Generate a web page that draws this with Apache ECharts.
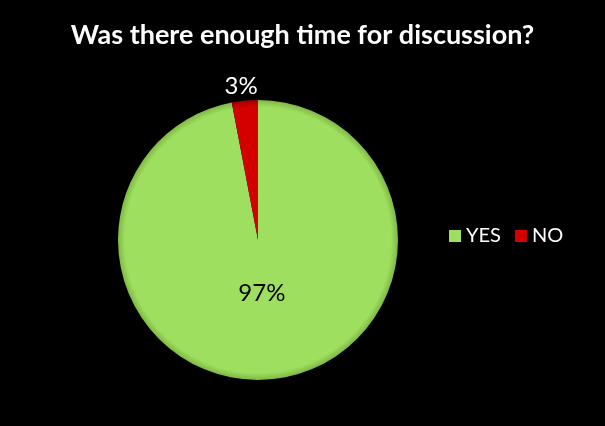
<!DOCTYPE html>
<html><head><meta charset="utf-8">
<script src="https://cdn.jsdelivr.net/npm/echarts@6/dist/echarts.min.js"></script>
<style>html,body{margin:0;padding:0;background:#000;}#c{width:605px;height:426px;}</style>
</head><body><div id="c"></div>
<script>
const titleText = 'Was there enough time for discussion?';
const categories = ['YES', 'NO'];
const values = [97, 3];
const colors = ['#9fdf5f', '#d40000'];
const edgeColors = ['#7fb845', '#a00000'];

const CX = 258, CY = 240, R = 140;
const chart = echarts.init(document.getElementById('c'), null, {renderer: 'canvas'});
const data = categories.map((c, i) => ({
  name: c,
  value: values[i],
  itemStyle: {
    color: new echarts.graphic.RadialGradient(CX, CY, R, [
      {offset: 0, color: colors[i]},
      {offset: 0.95, color: colors[i]},
      {offset: 1, color: edgeColors[i]}
    ], true)
  },
  label: i === 0 ? {
    position: 'inside', color: '#000', offset: [-3, -19]
  } : {
    position: 'outside', color: '#fff', offset: [18, -12]
  },
  labelLine: {show: false}
}));

chart.setOption({
  backgroundColor: '#000',
  animation: false,
  title: {
    text: titleText, left: 'center', top: 17,
    textStyle: {color: '#fff', fontFamily: 'Lato', fontWeight: 'bold', fontSize: 27}
  },
  legend: {
    data: categories.map((c, i) => ({name: c, itemStyle: {color: colors[i]}})),
    left: 444, top: 221, orient: 'horizontal',
    itemWidth: 12, itemHeight: 12, itemGap: 14, icon: 'rect',
    textStyle: {color: '#fff', fontFamily: 'Lato', fontSize: 20}
  },
  series: [{
    type: 'pie',
    center: [CX, CY],
    radius: R,
    startAngle: 90,
    clockwise: true,
    data: data,
    label: {
      formatter: '{d}%', fontFamily: 'Lato', fontSize: 24
    },
    labelLine: {show: false, length: 2, length2: 0},
    itemStyle: {borderWidth: 0}
  }]
});
</script></body></html>
